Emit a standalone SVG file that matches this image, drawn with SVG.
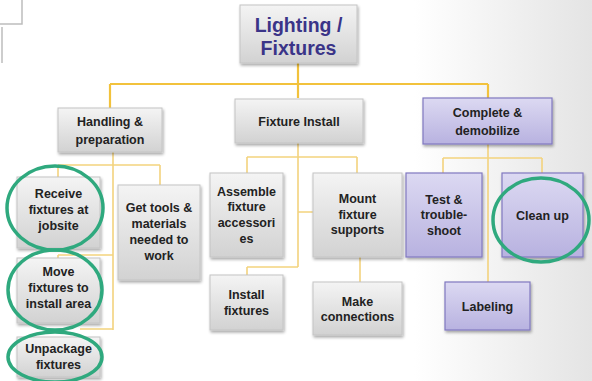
<svg xmlns="http://www.w3.org/2000/svg" width="592" height="381" viewBox="0 0 592 381">
  <defs>
    <linearGradient id="bg" x1="0" y1="0" x2="1" y2="0">
      <stop offset="0" stop-color="#ffffff"/>
      <stop offset="0.7" stop-color="#ffffff"/>
      <stop offset="1" stop-color="#e4e4e4"/>
    </linearGradient>
    <linearGradient id="grayFill" x1="0" y1="0" x2="0" y2="1">
      <stop offset="0" stop-color="#f4f4f4"/>
      <stop offset="1" stop-color="#d2d2d2"/>
    </linearGradient>
    <linearGradient id="purpleFill" x1="0" y1="0" x2="0" y2="1">
      <stop offset="0" stop-color="#dcd9f2"/>
      <stop offset="1" stop-color="#b8b2e0"/>
    </linearGradient>
    <filter id="shadow" x="-10%" y="-10%" width="125%" height="130%">
      <feGaussianBlur in="SourceAlpha" stdDeviation="1.5"/>
      <feOffset dx="1" dy="2" result="b"/>
      <feComponentTransfer><feFuncA type="linear" slope="0.35"/></feComponentTransfer>
      <feMerge><feMergeNode/><feMergeNode in="SourceGraphic"/></feMerge>
    </filter>
  </defs>
  <style>
    .box { fill: url(#grayFill); stroke: #c4c4c4; stroke-width: 1; filter: url(#shadow); }
    .pbox { fill: url(#purpleFill); stroke: #8078c0; stroke-width: 1.2; filter: url(#shadow); }
    .lbl { font-family: "Liberation Sans", Arial, sans-serif; font-weight: bold; font-size: 12.5px; fill: #222222; text-anchor: middle; }
    .title { font-family: "Liberation Sans", Arial, sans-serif; font-weight: bold; font-size: 19.5px; fill: #3a3488; text-anchor: middle; }
    .main { fill: none; stroke: #f2c23c; stroke-width: 2.2; }
    .sub { fill: none; stroke: #f3d37e; stroke-width: 1.6; }
    .ring { fill: none; stroke: #2fa97e; stroke-width: 3.5; }
    .edge { fill: none; stroke: #bdbdbd; stroke-width: 1.5; }
  </style>

  <rect width="592" height="381" fill="url(#bg)"/>

  <!-- partial frame in the top-left corner -->
  <path class="edge" d="M0 24 H22 V0 M2 27 V63"/>

  <!-- connectors -->
  <g id="connectors">
    <path class="main" d="M298 63 V98 M110 84 H488 M110 84 V108 M488 84 V98"/>
    <path class="sub" d="M113 152 V330 M58 165 H160 M58 165 V177 M160 165 V185 M58 255 H113 M58 255 V258 M80 329 H113"/>
    <path class="sub" d="M298 143 V267 M247 157 H357 M247 157 V173 M357 157 V173 M298 212 H313 M247 267 H298 M247 267 V275 M360 257 V282"/>
    <path class="sub" d="M488 144 V282 M443 158 H542 M443 158 V173 M542 158 V173"/>
  </g>

  <!-- root -->
  <g id="root">
    <rect class="box" x="240" y="5" width="117" height="58"/>
    <text class="title" x="298.5" y="32">Lighting /</text>
    <text class="title" x="298.5" y="55">Fixtures</text>
  </g>

  <!-- level 1 -->
  <g id="handling">
    <rect class="box" x="58" y="108" width="104" height="44"/>
    <text class="lbl" x="110" y="126" font-size="13.5">Handling &amp;</text>
    <text class="lbl" x="110" y="144" font-size="13.5">preparation</text>
  </g>
  <g id="fixture-install">
    <rect class="box" x="235" y="99" width="128" height="44"/>
    <text class="lbl" x="299" y="126" font-size="13.5">Fixture Install</text>
  </g>
  <g id="complete">
    <rect class="pbox" x="423" y="98" width="129" height="46"/>
    <text class="lbl" x="487.5" y="117" font-size="13.5">Complete &amp;</text>
    <text class="lbl" x="487.5" y="135" font-size="13.5">demobilize</text>
  </g>

  <!-- handling & preparation tasks -->
  <g id="receive">
    <rect class="box" x="17" y="177" width="83" height="71"/>
    <text class="lbl" x="58.5" y="198">Receive</text>
    <text class="lbl" x="58.5" y="214">fixtures at</text>
    <text class="lbl" x="58.5" y="230">jobsite</text>
  </g>
  <g id="move">
    <rect class="box" x="17" y="258" width="83" height="65"/>
    <text class="lbl" x="58.5" y="276">Move</text>
    <text class="lbl" x="58.5" y="292">fixtures to</text>
    <text class="lbl" x="58.5" y="308">install area</text>
  </g>
  <g id="unpackage">
    <rect class="box" x="17" y="337" width="83" height="40"/>
    <text class="lbl" x="58.5" y="353">Unpackage</text>
    <text class="lbl" x="58.5" y="369">fixtures</text>
  </g>
  <g id="get-tools">
    <rect class="box" x="118" y="185" width="82" height="95"/>
    <text class="lbl" x="159" y="212">Get tools &amp;</text>
    <text class="lbl" x="159" y="228">materials</text>
    <text class="lbl" x="159" y="244">needed to</text>
    <text class="lbl" x="159" y="260">work</text>
  </g>

  <!-- fixture install tasks -->
  <g id="assemble">
    <rect class="box" x="210" y="173" width="73" height="84"/>
    <text class="lbl" x="246.5" y="196">Assemble</text>
    <text class="lbl" x="246.5" y="211">fixture</text>
    <text class="lbl" x="246.5" y="227">accessori</text>
    <text class="lbl" x="246.5" y="243">es</text>
  </g>
  <g id="mount">
    <rect class="box" x="313" y="173" width="89" height="84"/>
    <text class="lbl" x="357.5" y="203">Mount</text>
    <text class="lbl" x="357.5" y="219">fixture</text>
    <text class="lbl" x="357.5" y="234">supports</text>
  </g>
  <g id="install">
    <rect class="box" x="210" y="275" width="73" height="55"/>
    <text class="lbl" x="246.5" y="299">Install</text>
    <text class="lbl" x="246.5" y="315">fixtures</text>
  </g>
  <g id="connections">
    <rect class="box" x="313" y="282" width="89" height="53"/>
    <text class="lbl" x="357.5" y="306">Make</text>
    <text class="lbl" x="357.5" y="321">connections</text>
  </g>

  <!-- completion tasks -->
  <g id="test">
    <rect class="pbox" x="406" y="173" width="76" height="84"/>
    <text class="lbl" x="444" y="204">Test &amp;</text>
    <text class="lbl" x="444" y="219">trouble-</text>
    <text class="lbl" x="444" y="235">shoot</text>
  </g>
  <g id="clean-up">
    <rect class="pbox" x="502" y="173" width="81" height="84"/>
    <text class="lbl" x="542.5" y="220">Clean up</text>
  </g>
  <g id="labeling">
    <rect class="pbox" x="445" y="282" width="85" height="48"/>
    <text class="lbl" x="487.5" y="311">Labeling</text>
  </g>

  <!-- highlight rings -->
  <g id="highlights">
    <ellipse class="ring" cx="55" cy="208" rx="48" ry="42"/>
    <ellipse class="ring" cx="55" cy="290" rx="47" ry="40"/>
    <ellipse class="ring" cx="55" cy="357" rx="47" ry="25"/>
    <ellipse class="ring" cx="541" cy="220" rx="48" ry="42"/>
  </g>
</svg>
